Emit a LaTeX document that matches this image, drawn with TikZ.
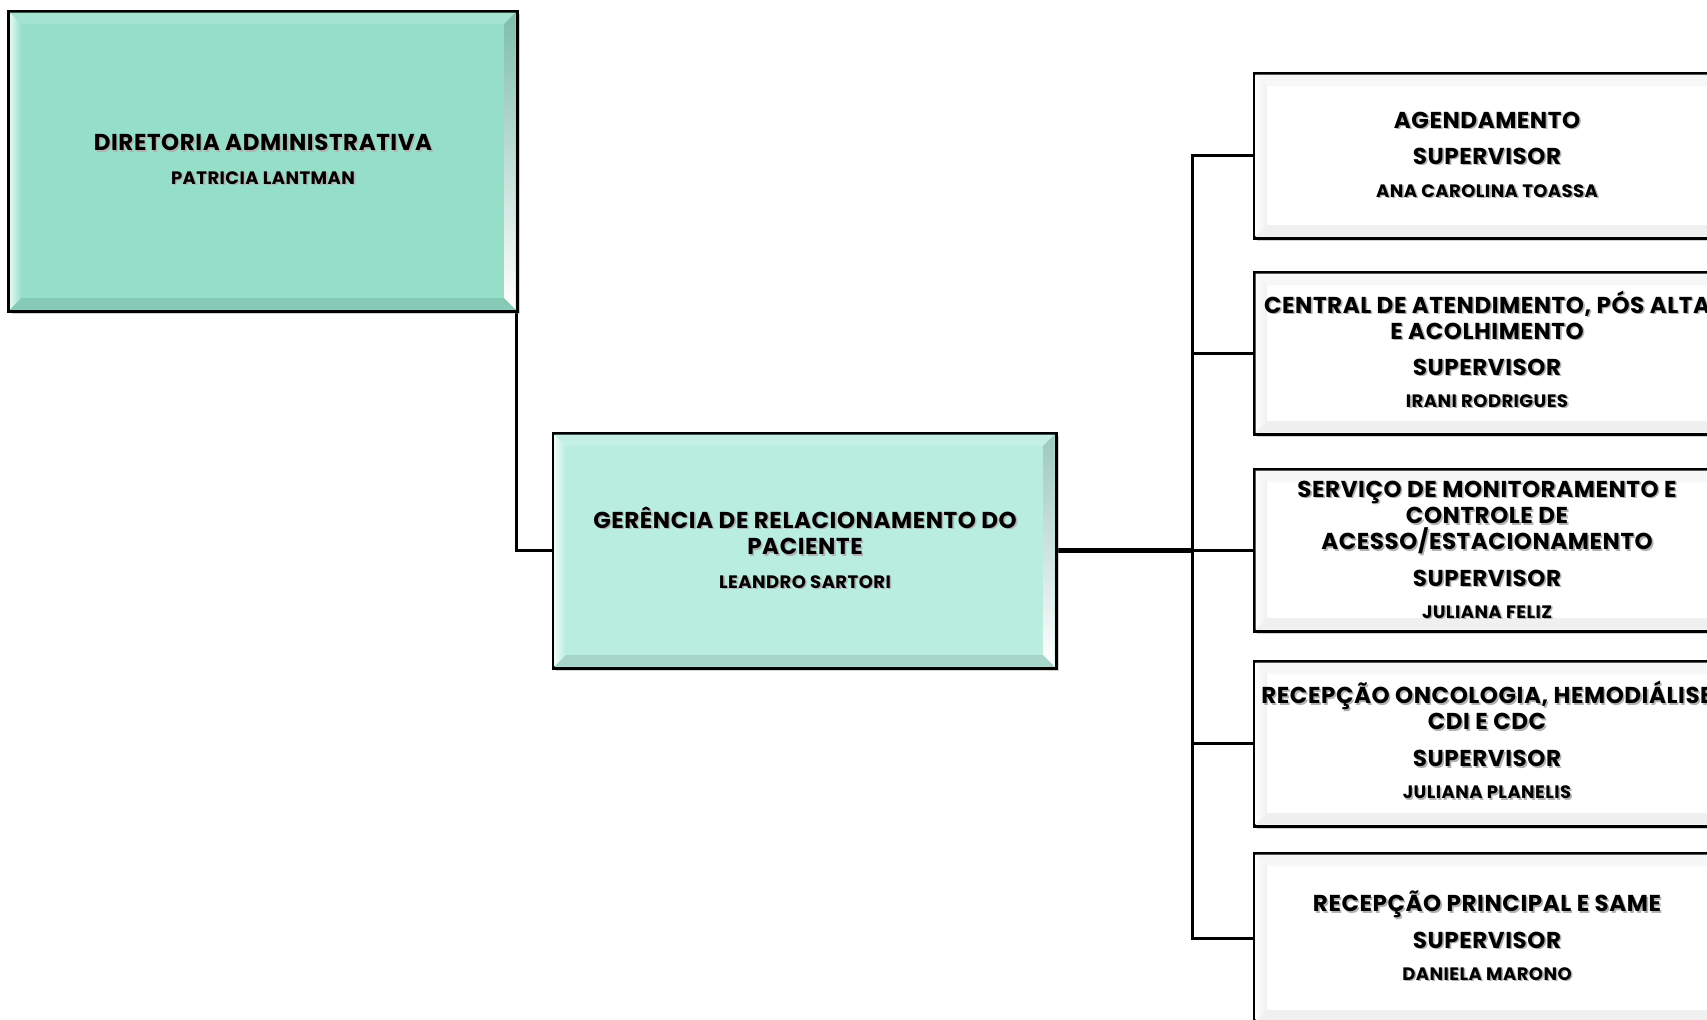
\documentclass[tikz,border=0pt]{standalone}
\usepackage{fontspec}
\setmainfont{Poppins}[LetterSpace=2.5]
\usetikzlibrary{shadows,calc}
\definecolor{tealA}{HTML}{95DFC9}
\definecolor{tealB}{HTML}{B9EDDF}
\colorlet{tealAlt}{tealA!25!white}
\colorlet{tealBlt}{tealB!25!white}
\newcommand\shtxt[1]{\leavevmode\rlap{\kern0.8pt\raisebox{-0.8pt}{\color{black!30}#1}}#1}
\newcommand\bevelbox[6]{%
  \shade[left color=#2, right color=#3] ($(#1.north west)+(1.5,1.5)$) -- ($(#1.north west)+(13,13)$) -- ($(#1.south west)+(13,-13)$) -- ($(#1.south west)+(1.5,-1.5)$) -- cycle;
  \fill[#4] ($(#1.north west)+(1.5,1.5)$) -- ($(#1.north east)+(-1.5,1.5)$) -- ($(#1.north east)+(-13,13)$) -- ($(#1.north west)+(13,13)$) -- cycle;
  \shade[top color=#5, bottom color=white] ($(#1.north east)+(-1.5,1.5)$) -- ($(#1.south east)+(-1.5,-1.5)$) -- ($(#1.south east)+(-13,-13)$) -- ($(#1.north east)+(-13,13)$) -- cycle;
  \fill[#6] ($(#1.south west)+(1.5,-1.5)$) -- ($(#1.south east)+(-1.5,-1.5)$) -- ($(#1.south east)+(-13,-13)$) -- ($(#1.south west)+(13,-13)$) -- cycle;
}
\tikzset{
  orgbox/.style={draw=black, line width=1.5pt, inner sep=0pt, outer sep=0pt,
    drop shadow={shadow xshift=1.5pt, shadow yshift=-1.5pt, opacity=0.35}},
  hd/.style={font=\fontsize{11.5}{13}\selectfont\bfseries, anchor=base, inner sep=0pt},
  nm/.style={font=\fontsize{9}{11}\selectfont\bfseries, anchor=base, inner sep=0pt},
  conn/.style={line width=1.5pt, black},
  mainconn/.style={line width=2.2pt, black},
}
\begin{document}
\begin{tikzpicture}[x=0.5pt, y=-0.5pt]
\clip (0,0) rectangle (1707,1019);
\fill[white] (0,0) rectangle (1707,1019);
\coordinate (bx) at (1192.5,0);
% connectors (drawn first)
\coordinate (dirdrop) at (516,311);
\coordinate (gerin) at (553,550.5);
\draw[conn] (dirdrop) |- (gerin);
\coordinate (gerout) at (1056,550.5);
\draw[mainconn] (gerout) -- (gerout -| bx);
\coordinate (b1in) at (1254,155.5);
\coordinate (b2in) at (1254,353);
\coordinate (b3in) at (1254,550);
\coordinate (b4in) at (1254,743.5);
\coordinate (b5in) at (1254,938);
\draw[conn] (b1in) -- (b1in -| bx) |- (b5in);
\draw[conn] (b2in) -- (b2in -| bx);
\draw[conn] (b3in) -- (b3in -| bx);
\draw[conn] (b4in) -- (b4in -| bx);
% boxes
\node[orgbox, fill=tealA, minimum width=254.25pt, minimum height=150pt] (dir) at (262.75,161) {};
\bevelbox{dir}{tealAlt}{tealA}{tealA!85!white}{tealA!85!black}{tealA!90!black}
\node[orgbox, fill=tealB, minimum width=251.5pt, minimum height=117.5pt] (ger) at (804.5,550.5) {};
\bevelbox{ger}{tealBlt}{tealB}{tealB!85!white}{tealB!85!black}{tealB!90!black}
\foreach \n/\y/\h in {b1/155.5/82.5, b2/353/81, b3/550/81, b4/743.5/82.5, b5/938/85}{
  \node[orgbox, fill=white, minimum width=233.5pt, minimum height=\h pt] (\n) at (1487.5,\y) {};
  \bevelbox{\n}{white}{black!6}{black!3}{black!12}{black!6}
}
% texts
\node[hd] (dirt1) at (263,150.5) {\shtxt{DIRETORIA ADMINISTRATIVA}};
\node[nm] (dirt2) at (263,184) {\shtxt{PATRICIA LANTMAN}};
\node[hd] (gert1) at (805,528) {\shtxt{GERÊNCIA DE RELACIONAMENTO DO}};
\node[hd] (gert2) at (805,554.5) {\shtxt{PACIENTE}};
\node[nm] (gert3) at (805,588) {\shtxt{LEANDRO SARTORI}};
\node[hd] (b1t1) at (1487,128) {\shtxt{AGENDAMENTO}};
\node[hd] (b1t2) at (1487,164) {\shtxt{SUPERVISOR}};
\node[nm] (b1t3) at (1487,197) {\shtxt{ANA CAROLINA TOASSA}};
\node[hd] (b2t1) at (1487,313) {\shtxt{CENTRAL DE ATENDIMENTO, PÓS ALTA}};
\node[hd] (b2t2) at (1487,339) {\shtxt{E ACOLHIMENTO}};
\node[hd] (b2t3) at (1487,375) {\shtxt{SUPERVISOR}};
\node[nm] (b2t4) at (1487,407) {\shtxt{IRANI RODRIGUES}};
\node[hd] (b3t1) at (1487,497) {\shtxt{SERVIÇO DE MONITORAMENTO E}};
\node[hd] (b3t2) at (1487,523.5) {\shtxt{CONTROLE DE}};
\node[hd] (b3t3) at (1487,549.5) {\shtxt{ACESSO/ESTACIONAMENTO}};
\node[hd] (b3t4) at (1487,586) {\shtxt{SUPERVISOR}};
\node[nm] (b3t5) at (1487,618) {\shtxt{JULIANA FELIZ}};
\node[hd] (b4t1) at (1487,703.5) {\shtxt{RECEPÇÃO ONCOLOGIA, HEMODIÁLISE}};
\node[hd] (b4t2) at (1487,729.5) {\shtxt{CDI E CDC}};
\node[hd] (b4t3) at (1487,766.5) {\shtxt{SUPERVISOR}};
\node[nm] (b4t4) at (1487,798.5) {\shtxt{JULIANA PLANELIS}};
\node[hd] (b5t1) at (1487,911.5) {\shtxt{RECEPÇÃO PRINCIPAL E SAME}};
\node[hd] (b5t2) at (1487,948) {\shtxt{SUPERVISOR}};
\node[nm] (b5t3) at (1487,980) {\shtxt{DANIELA MARONO}};
\end{tikzpicture}
\end{document}
